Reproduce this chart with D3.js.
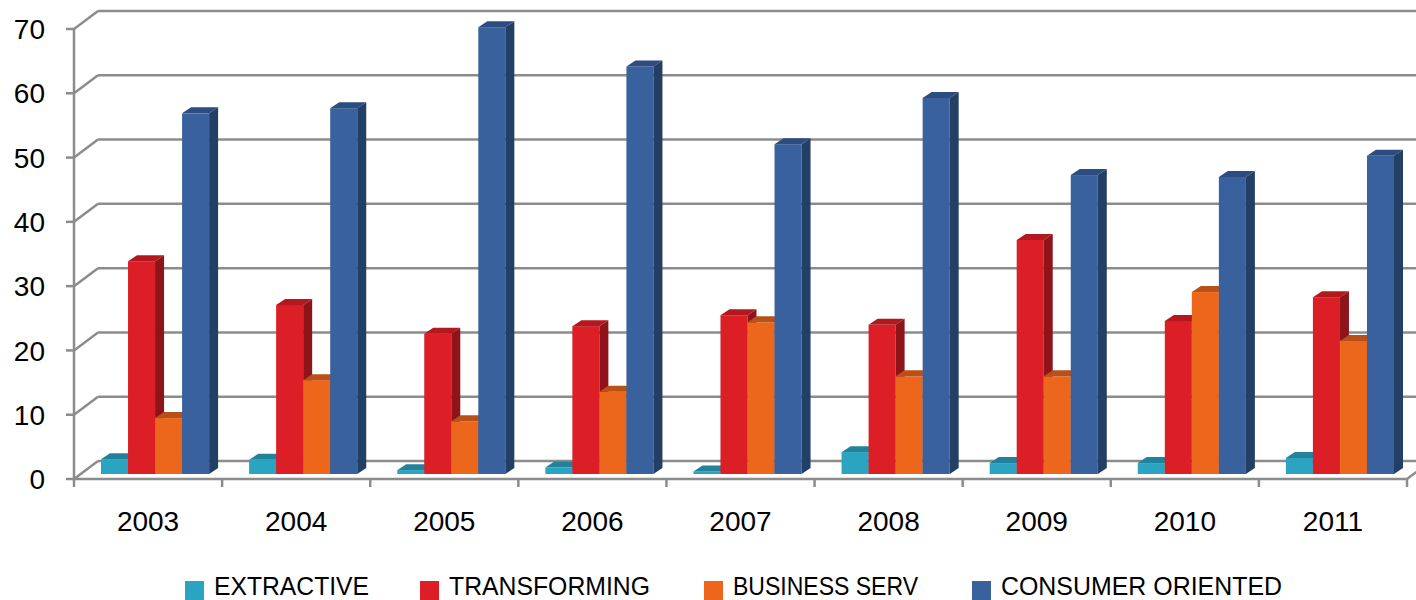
<!DOCTYPE html>
<html>
<head>
<meta charset="utf-8">
<script src="https://cdn.jsdelivr.net/npm/d3@7"></script>
<style>
body { margin: 0; background: #fff; }
</style>
</head>
<body>
<script>
var lata = ["2003", "2004", "2005", "2006", "2007", "2008", "2009", "2010", "2011"]
var serie = ["EXTRACTIVE", "TRANSFORMING", "BUSINESS SERV", "CONSUMER ORIENTED"]
var extractive = [2.3, 2.2, 0.6, 1.0, 0.4, 3.4, 1.7, 1.7, 2.5]
var transforming = [33.1, 26.3, 21.8, 23.0, 24.7, 23.2, 36.4, 23.8, 27.5]
var businessServ = [8.7, 14.6, 8.2, 12.8, 23.6, 15.2, 15.2, 28.3, 20.7]
var consumerOriented = [56.1, 56.9, 69.5, 63.4, 51.3, 58.5, 46.5, 46.2, 49.5]
var osY = [0, 10, 20, 30, 40, 50, 60, 70]

var kolory = [
  {front: "#2ba4c1", top: "#22829b", side: "#1d7088"},
  {front: "#dc1f27", top: "#b3181f", side: "#8f1419"},
  {front: "#ec661c", top: "#b8501a", side: "#a34512"},
  {front: "#38619e", top: "#2c4d80", side: "#243f66"}
]
var wartosci = [extractive, transforming, businessServ, consumerOriented]

var obrazek = d3.select("body").append("svg")
  .attr("width", 1416)
  .attr("height", 600)

var x = d3.scaleBand().domain(lata).range([74, 1407]).paddingInner(0.27).paddingOuter(0.135)
var x1 = d3.scaleBand().domain(serie).range([0, x.bandwidth()])
var y = d3.scaleLinear().domain([0, 70]).range([479, 29])

// przesuniecia 3D: sciana tylna, przod slupka, glebokosc slupka
var tylX = 24, tylY = -18
var przodX = 7, przodY = -5
var glebX = 9, glebY = -6
var szary = "#8c8c8c"

var siatka = obrazek.append("g").style("stroke", szary).style("stroke-width", 2.5).style("fill", "none")
siatka.selectAll("line.tyl")
  .data(osY)
  .enter()
  .append("line")
  .attr("x1", 74 + tylX).attr("x2", 1416)
  .attr("y1", function(d) { return y(d) + tylY })
  .attr("y2", function(d) { return y(d) + tylY })
siatka.selectAll("line.skos")
  .data(osY)
  .enter()
  .append("line")
  .attr("x1", 74).attr("x2", 74 + tylX)
  .attr("y1", function(d) { return y(d) })
  .attr("y2", function(d) { return y(d) + tylY })
siatka.selectAll("line.tick")
  .data(osY)
  .enter()
  .append("line")
  .attr("x1", 66).attr("x2", 74)
  .attr("y1", function(d) { return y(d) })
  .attr("y2", function(d) { return y(d) })
siatka.append("line").attr("x1", 74).attr("x2", 74).attr("y1", y(70)).attr("y2", y(0))
siatka.append("path")
  .attr("d", "M74," + y(0) + "L1407," + y(0) + "L" + (1407 + tylX) + "," + (y(0) + tylY))
siatka.selectAll("line.kat")
  .data(d3.range(lata.length + 1))
  .enter()
  .append("line")
  .attr("x1", function(d) { return 74 + d * x.step() })
  .attr("x2", function(d) { return 74 + d * x.step() })
  .attr("y1", y(0)).attr("y2", y(0) + 8)

// slupki
lata.forEach(function(rok, i) {
  var grupa = obrazek.append("g")
  serie.forEach(function(s, j) {
    var v = wartosci[j][i]
    var xa = x(rok) + x1(s) + przodX
    var xb = xa + x1.bandwidth()
    var yt = y(v) + przodY
    var yb = y(0) + przodY
    grupa.append("rect")
      .attr("x", xa).attr("y", yt)
      .attr("width", xb - xa).attr("height", yb - yt)
      .style("fill", kolory[j].front)
    grupa.append("path")
      .attr("d", "M" + xa + "," + yt + "L" + (xa + glebX) + "," + (yt + glebY) + "L" + (xb + glebX) + "," + (yt + glebY) + "L" + xb + "," + yt + "Z")
      .style("fill", kolory[j].top)
    grupa.append("path")
      .attr("d", "M" + xb + "," + yt + "L" + (xb + glebX) + "," + (yt + glebY) + "L" + (xb + glebX) + "," + (yb + glebY) + "L" + xb + "," + yb + "Z")
      .style("fill", kolory[j].side)
  })
})

// etykiety osi
obrazek.append("g").selectAll("text")
  .data(osY)
  .enter()
  .append("text")
  .attr("x", 45)
  .attr("y", function(d) { return y(d) })
  .attr("dy", "0.36em")
  .attr("text-anchor", "end")
  .style("font-family", "'Liberation Sans', Arial, sans-serif")
  .style("font-size", "28px")
  .style("fill", "#000")
  .text(function(d) { return d })

obrazek.append("g").selectAll("text")
  .data(lata)
  .enter()
  .append("text")
  .attr("x", function(d) { return x(d) + x.bandwidth() / 2 })
  .attr("y", 521)
  .attr("dy", "0.36em")
  .attr("text-anchor", "middle")
  .style("font-family", "'Liberation Sans', Arial, sans-serif")
  .style("font-size", "28px")
  .style("fill", "#000")
  .text(function(d) { return d })

// legenda (tekst zwezony jak w oryginale)
var legX = [185, 420, 704, 972]
var legSzer = [155, 201, 185, 281]
var legenda = obrazek.append("g").selectAll("g")
  .data(serie)
  .enter()
  .append("g")
  .attr("transform", function(d, i) { return "translate(" + legX[i] + ",581)" })
legenda.append("rect")
  .attr("width", 19).attr("height", 19)
  .style("fill", function(d, i) { return kolory[i].front })
legenda.append("text")
  .attr("x", 29)
  .attr("y", 14)
  .attr("textLength", function(d, i) { return legSzer[i] })
  .attr("lengthAdjust", "spacingAndGlyphs")
  .style("font-family", "'Liberation Sans', Arial, sans-serif")
  .style("font-size", "26px")
  .style("fill", "#000")
  .text(function(d) { return d })
</script>
</body>
</html>
